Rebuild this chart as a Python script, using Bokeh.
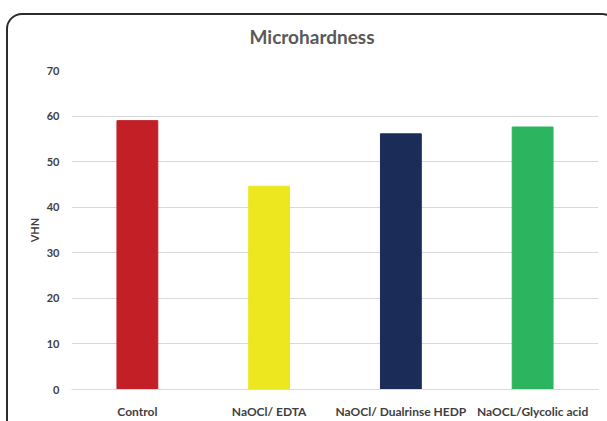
from bokeh.plotting import figure
from bokeh.models import ColumnDataSource, FixedTicker, InlineStyleSheet
from bokeh.embed import file_html
from bokeh.resources import INLINE

# Microhardness (VHN) per irrigation protocol
groups = ["Control", "NaOCl/ EDTA", "NaOCl/ Dualrinse HEDP", "NaOCL/Glycolic acid"]
vhn = [59.0, 44.6, 56.1, 57.6]
bar_colors = ["#c21f27", "#ece71f", "#1c2c58", "#2db45e"]
y_ticks = [0, 10, 20, 30, 40, 50, 60, 70]

src = ColumnDataSource(dict(group=groups, vhn=vhn, color=bar_colors))

p = figure(
    x_range=groups, y_range=(0, 70),
    width=607, height=421,
    output_backend="svg", toolbar_location=None,
    min_border_left=71, min_border_right=9,
    min_border_top=69, min_border_bottom=31,
    background_fill_color="white", border_fill_color="white",
)
p.outline_line_color = None

p.vbar(x="group", top="vhn", width=0.31, color="color", source=src)

font = "Lato"
tick_color = "#404040"

# title
p.title.text = "Microhardness"
p.title.align = "left"
p.title.offset = 178
p.title.standoff = 45
p.title.text_font = font
p.title.text_font_style = "bold"
p.title.text_font_size = "19px"
p.title.text_color = "#595959"

# axes
p.yaxis.ticker = FixedTicker(ticks=y_ticks)
p.yaxis.axis_line_color = None
p.yaxis.major_tick_line_color = None
p.yaxis.major_tick_out = 0
p.yaxis.major_tick_in = 0
p.yaxis.minor_tick_line_color = None
p.yaxis.major_label_standoff = 12
p.yaxis.major_label_text_font = font
p.yaxis.major_label_text_font_style = "bold"
p.yaxis.major_label_text_font_size = "11px"
p.yaxis.major_label_text_color = tick_color
p.yaxis.axis_label = "VHN"
p.yaxis.axis_label_text_font = font
p.yaxis.axis_label_text_font_style = "bold"
p.yaxis.axis_label_text_font_size = "11px"
p.yaxis.axis_label_text_color = tick_color
p.yaxis.axis_label_standoff = 3

p.xaxis.axis_line_color = "#d9d9d9"
p.xaxis.major_tick_line_color = None
p.xaxis.major_tick_out = 0
p.xaxis.major_tick_in = 0
p.xaxis.minor_tick_line_color = None
p.xaxis.major_label_standoff = 14
p.xaxis.major_label_text_font = font
p.xaxis.major_label_text_font_style = "bold"
p.xaxis.major_label_text_font_size = "12px"
p.xaxis.major_label_text_color = tick_color

p.xgrid.grid_line_color = None
p.ygrid.grid_line_color = "#d9d9d9"
p.ygrid.grid_line_width = 1

# rounded chart border, running off the right and bottom edges
p.stylesheets = [InlineStyleSheet(css="""
:host { position: relative; overflow: hidden; }
:host::after {
  content: "";
  position: absolute;
  left: 6px; top: 13px;
  width: 612px; height: 430px;
  box-sizing: border-box;
  border: 2px solid #2b2b2b;
  border-radius: 16px;
  pointer-events: none;
}
""")]

open("out.html", "w").write(file_html(p, INLINE))
